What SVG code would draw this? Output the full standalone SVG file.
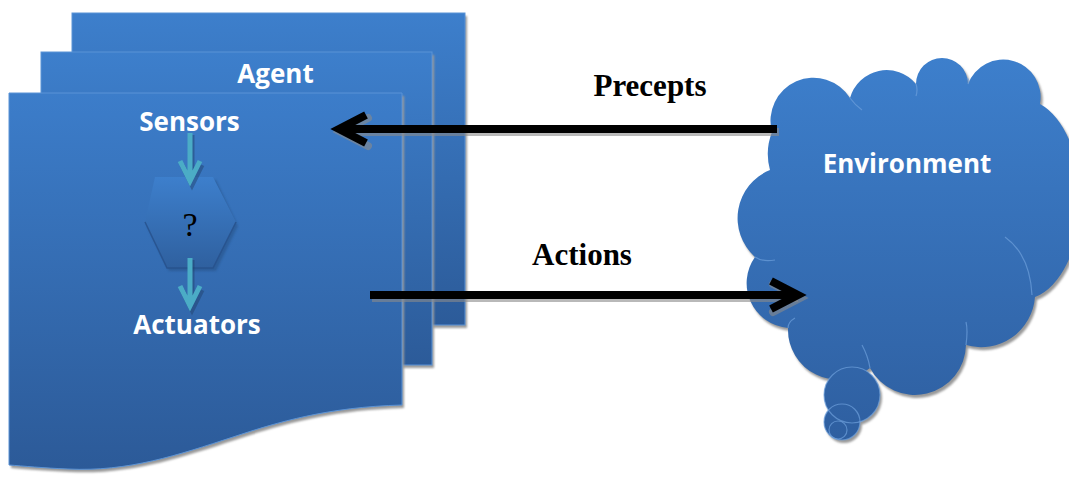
<svg xmlns="http://www.w3.org/2000/svg" width="1069" height="477" viewBox="0 0 1069 477">
  <defs>
    <linearGradient id="pageFill" x1="0" y1="0" x2="0" y2="1">
      <stop offset="0" stop-color="#3d7fcc"/>
      <stop offset="1" stop-color="#2c5b99"/>
    </linearGradient>
    <linearGradient id="frontFill" gradientUnits="userSpaceOnUse" x1="0" y1="93" x2="0" y2="470">
      <stop offset="0" stop-color="#3c7dca"/>
      <stop offset="1" stop-color="#2c5a98"/>
    </linearGradient>
    <linearGradient id="cloudFill" gradientUnits="userSpaceOnUse" x1="0" y1="58" x2="0" y2="450">
      <stop offset="0" stop-color="#3d7fcc"/>
      <stop offset="1" stop-color="#2e5e9f"/>
    </linearGradient>
    <linearGradient id="hexFill" gradientUnits="userSpaceOnUse" x1="0" y1="177" x2="0" y2="268">
      <stop offset="0" stop-color="#3d7fcc"/>
      <stop offset="1" stop-color="#2f609f"/>
    </linearGradient>
    <filter id="soft" x="-10%" y="-10%" width="120%" height="120%">
      <feGaussianBlur stdDeviation="1.2"/>
    </filter>
    <path id="cloudOutline" d="M772,132 A43,43 0 0 1 850,98 A38,38 0 0 1 916,84 A26,26 0 0 1 968,84 A37.5,37.5 0 0 1 1040,104 A58,100 0 0 1 1035,297 A54,54 0 0 1 966,345 A51,51 0 0 1 870,368 A50,50 0 0 1 788,328 A45,45 0 0 1 755,257 A52,52 0 0 1 770,170 A60,60 0 0 1 772,132 Z"/>
    <style>
      .lbl { font-family: "Open Sans", "Liberation Sans", sans-serif; font-weight: bold; font-size: 26px; fill: #ffffff; text-anchor: middle; }
      .edge-lbl { font-family: "Liberation Serif", "Times New Roman", serif; font-weight: bold; font-size: 31px; fill: #000; text-anchor: middle; }
      .page { stroke: #5b93d6; stroke-width: 1; }
      .shadow { fill: #9a9a9a; filter: url(#soft); }
      .teal { stroke: #4bacc6; stroke-width: 5; fill: none; }
      .tealShadow { stroke: #1f3f66; stroke-width: 5; fill: none; opacity: 0.45; }
      .wire { stroke: #000; stroke-width: 8; fill: none; stroke-linecap: butt; }
      .wireShadow { stroke: #8a8a8a; stroke-width: 8; fill: none; opacity: 0.6; }
      .bubbleEdge { fill: none; stroke: #6d9fdc; stroke-width: 1.2; opacity: 0.7; }
    </style>
  </defs>

  <rect width="1069" height="477" fill="#ffffff"/>

  <!-- Agent: stack of three pages -->
  <g id="agent">
    <rect class="shadow" x="74" y="16" width="393" height="312"/>
    <rect class="page" x="72" y="13" width="393" height="312" fill="url(#pageFill)"/>
    <rect class="shadow" x="43" y="55" width="391" height="313"/>
    <rect class="page" x="41" y="52" width="391" height="313" fill="url(#pageFill)"/>
    <path class="shadow" d="M11,96 L404,96 L404,408 C330,410 280,425 235,440 C180,458 130,475 70,472 C45,471 25,469 11,468 Z"/>
    <path class="page" d="M9,93 L402,93 L402,405 C328,407 278,422 233,437 C178,455 128,472 68,469 C43,468 23,466 9,465 Z" fill="url(#frontFill)"/>
    <text class="lbl" x="275.5" y="83">Agent</text>
  </g>

  <g id="sensors">
    <text class="lbl" x="189.5" y="131">Sensors</text>
  </g>

  <!-- decision step -->
  <g id="decide">
    <polygon points="147,226 157,180 216,180 238,226 216,271 169,271" fill="#1f3f6a" opacity="0.35" filter="url(#soft)"/>
    <polygon points="145,222 155,177 213,177 236,222 213,268 167,268" fill="url(#hexFill)"/>
    <path d="M145,222 L167,268 L213,268 L236,222" fill="none" stroke="#27508b" stroke-width="1.5" opacity="0.8"/>
    <text x="190" y="236" font-family="Liberation Serif, Times New Roman, serif" font-size="34" fill="#000" text-anchor="middle">?</text>
  </g>

  <g id="actuators">
    <text class="lbl" x="197" y="334">Actuators</text>
  </g>

  <!-- Environment cloud -->
  <g id="environment">
    <g transform="translate(2,3)" filter="url(#soft)" fill="#9a9a9a">
      <use href="#cloudOutline"/>
      <circle cx="852" cy="395" r="28"/>
      <circle cx="842" cy="422" r="18"/>
    </g>
    <use href="#cloudOutline" fill="url(#cloudFill)"/>
    <!-- faint seams between the puffs -->
    <path class="bubbleEdge" d="M755,257 Q762,262 775,260"/>
    <path class="bubbleEdge" d="M788,328 Q788,322 795,318"/>
    <path class="bubbleEdge" d="M870,368 Q868,356 862,345"/>
    <path class="bubbleEdge" d="M966,345 Q968,330 966,322"/>
    <path class="bubbleEdge" d="M1005,237 Q1030,255 1032,295"/>
    <path class="bubbleEdge" d="M850,98 Q855,105 862,110"/>
    <path class="bubbleEdge" d="M916,84 Q918,90 916,96"/>
    <path class="bubbleEdge" d="M968,84 Q970,80 967,78"/>
    <circle cx="852" cy="395" r="28" fill="url(#cloudFill)"/>
    <circle cx="842" cy="422" r="18" fill="url(#cloudFill)"/>
    <circle class="bubbleEdge" cx="852" cy="395" r="28"/>
    <circle class="bubbleEdge" cx="842" cy="422" r="18"/>
    <circle class="bubbleEdge" cx="838" cy="430" r="9"/>
    <text class="lbl" x="907" y="173">Environment</text>
  </g>

  <!-- connectors -->
  <g id="connectors">
    <!-- Sensors to decision -->
    <path class="tealShadow" d="M191,133 L191,181 M181,163 L191,183 L201,163" transform="translate(1,2)"/>
    <path class="teal" d="M190,133 L190,180 M180,161 L190,181 L200,161"/>
    <!-- decision to Actuators -->
    <path class="tealShadow" d="M191,258 L191,306 M181,288 L191,308 L201,288" transform="translate(1,2)"/>
    <path class="teal" d="M190,258 L190,305 M180,286 L190,306 L200,286"/>

    <!-- Precepts: Environment to Agent -->
    <g transform="translate(2,3)">
      <path class="wireShadow" d="M777,129 L342,129"/>
      <path class="wireShadow" d="M366,115 L339,129 L366,143" stroke-linecap="round" stroke-linejoin="miter"/>
    </g>
    <path class="wire" d="M777,129 L342,129"/>
    <path class="wire" d="M366,115 L339,129 L366,143" stroke-linecap="round" stroke-linejoin="miter"/>

    <!-- Actions: Agent to Environment -->
    <g transform="translate(2,3)">
      <path class="wireShadow" d="M370,295 L796,295"/>
      <path class="wireShadow" d="M771,281 L798,295 L771,309" stroke-linecap="round" stroke-linejoin="miter"/>
    </g>
    <path class="wire" d="M370,295 L796,295"/>
    <path class="wire" d="M771,281 L798,295 L771,309" stroke-linecap="round" stroke-linejoin="miter"/>

    <text class="edge-lbl" x="650" y="96">Precepts</text>
    <text class="edge-lbl" x="582" y="265">Actions</text>
  </g>
</svg>
